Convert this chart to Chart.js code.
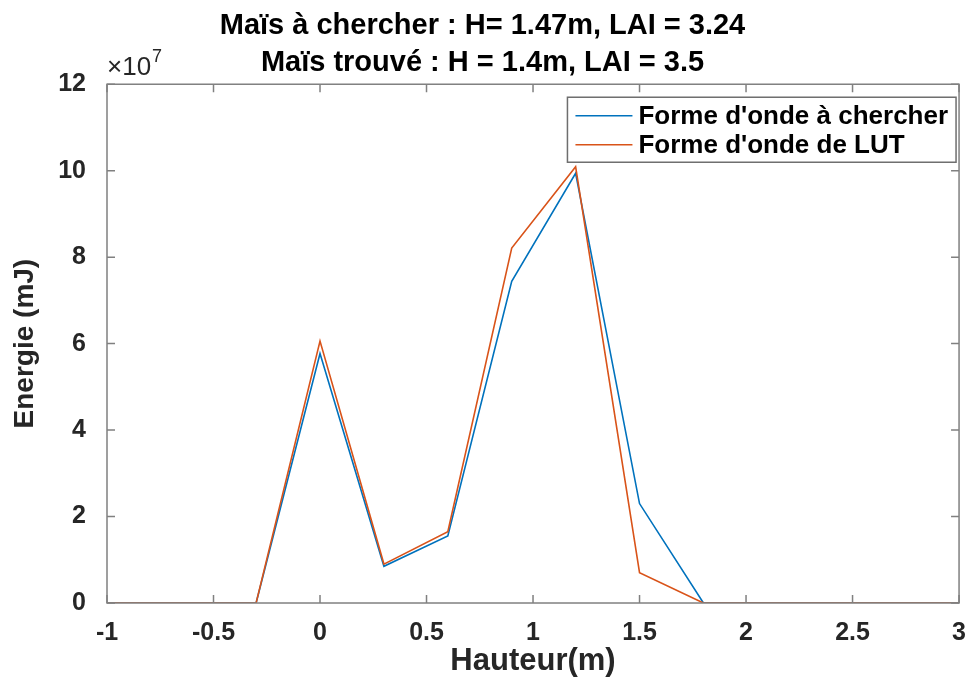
<!DOCTYPE html>
<html>
<head>
<meta charset="utf-8">
<script src="https://cdn.jsdelivr.net/npm/chart.js@4.4.1/dist/chart.umd.min.js"></script>
<style>
	html, body { margin: 0; padding: 0; background: #fff; }
	#wrap { width: 973px; height: 680px; }
</style>
</head>
<body>
<div id="wrap"><canvas id="chart" width="973" height="680"></canvas></div>
<script>
// valeurs
const hauteur = [-1, -0.3, 0, 0.3, 0.6, 0.9, 1.2, 1.5, 1.8, 3];
const energieCherchee = [0, 0, 5.77e7, 0.85e7, 1.55e7, 7.44e7, 9.94e7, 2.30e7, 0, 0];
const energieLUT = [0, 0, 6.06e7, 0.90e7, 1.65e7, 8.21e7, 10.09e7, 0.70e7, 0, 0];
const xTicks = [-1, -0.5, 0, 0.5, 1, 1.5, 2, 2.5, 3];
const yTicks = [0, 2e7, 4e7, 6e7, 8e7, 10e7, 12e7];
const titre = ['Maïs à chercher : H= 1.47m, LAI = 3.24', 'Maïs trouvé : H = 1.4m, LAI = 3.5'];
const legendes = ["Forme d'onde à chercher", "Forme d'onde de LUT"];

const FONT = "'Liberation Sans', Arial, sans-serif";
const AXIS = '#808080';
const TEXT = '#262626';

const points = (ys) => hauteur.map((x, i) => ({ x, y: ys[i] }));

// cadre, graduations vers l'intérieur, exposant et légende façon MATLAB
const matlabBox = {
	id: 'matlabBox',
	afterDatasetsDraw(chart) {
		let ctx = chart.ctx;
		let a = chart.chartArea;
		let xs = chart.scales.x;
		let ys = chart.scales.y;
		let t = 8;

		ctx.save();
		ctx.strokeStyle = AXIS;
		ctx.lineWidth = 1.5;
		ctx.strokeRect(a.left, a.top, a.right - a.left, a.bottom - a.top);

		ctx.beginPath();
		xTicks.forEach((v) => {
			let px = xs.getPixelForValue(v);
			ctx.moveTo(px, a.bottom); ctx.lineTo(px, a.bottom - t);
			ctx.moveTo(px, a.top); ctx.lineTo(px, a.top + t);
		});
		yTicks.forEach((v) => {
			let py = ys.getPixelForValue(v);
			ctx.moveTo(a.left, py); ctx.lineTo(a.left + t, py);
			ctx.moveTo(a.right, py); ctx.lineTo(a.right - t, py);
		});
		ctx.stroke();

		// ×10^7
		ctx.fillStyle = TEXT;
		ctx.textBaseline = 'alphabetic';
		ctx.textAlign = 'left';
		ctx.font = '26px ' + FONT;
		ctx.fillText('\u00d710', a.left, a.top - 9);
		let w = ctx.measureText('\u00d710').width;
		ctx.font = '18px ' + FONT;
		ctx.fillText('7', a.left + 1 + w, a.top - 22);

		// légende
		ctx.font = 'bold 26px ' + FONT;
		let tw = Math.max(...legendes.map((s) => ctx.measureText(s).width));
		let rowH = 29;
		let boxW = 8 + 57 + 6 + tw + 8;
		let boxH = rowH * legendes.length + 7;
		let bx = a.right - 3 - boxW;
		let by = a.top + 13;
		ctx.fillStyle = '#fff';
		ctx.fillRect(bx, by, boxW, boxH);
		ctx.strokeStyle = '#6e6e6e';
		ctx.lineWidth = 1.5;
		ctx.strokeRect(bx, by, boxW, boxH);
		chart.data.datasets.forEach((ds, i) => {
			let cy = by + 4 + rowH * i + rowH / 2;
			ctx.strokeStyle = ds.borderColor;
			ctx.lineWidth = 1.5;
			ctx.beginPath();
			ctx.moveTo(bx + 8, cy);
			ctx.lineTo(bx + 65, cy);
			ctx.stroke();
			ctx.fillStyle = '#000';
			ctx.textBaseline = 'middle';
			ctx.fillText(ds.label, bx + 71, cy + 1);
		});
		ctx.restore();
	},
};

let chart = new Chart(document.getElementById('chart'), {
	type: 'line',
	data: {
		datasets: [
			{
				label: legendes[0],
				data: points(energieCherchee),
				borderColor: '#0072BD',
				borderWidth: 1.6,
				pointRadius: 0,
				tension: 0,
				order: 1,
			},
			{
				label: legendes[1],
				data: points(energieLUT),
				borderColor: '#D95319',
				borderWidth: 1.6,
				pointRadius: 0,
				tension: 0,
				order: 0,
			},
		],
	},
	options: {
		responsive: false,
		animation: false,
		layout: { padding: { top: 0, right: 8, left: 0, bottom: 0 } },
		plugins: {
			legend: { display: false },
			tooltip: { enabled: false },
			title: {
				display: true,
				text: titre,
				color: '#000',
				font: { family: FONT, size: 29, weight: 'bold', lineHeight: 1.28 },
				padding: { top: 7, bottom: 3 },
			},
		},
		scales: {
			x: {
				type: 'linear',
				min: -1,
				max: 3,
				afterBuildTicks(scale) { scale.ticks = xTicks.map((v) => ({ value: v })); },
				afterFit(scale) { scale.height = 77; },
				grid: { display: false },
				border: { display: false },
				ticks: {
					color: TEXT,
					padding: 7,
					font: { family: FONT, size: 25, weight: 'bold' },
					callback: (v) => String(v),
				},
				title: {
					display: true,
					text: 'Hauteur(m)',
					color: TEXT,
					font: { family: FONT, size: 31, weight: 'bold' },
					padding: { top: -5, bottom: 0 },
				},
			},
			y: {
				min: 0,
				max: 12e7,
				afterBuildTicks(scale) { scale.ticks = yTicks.map((v) => ({ value: v })); },
				afterFit(scale) { scale.width = 107; },
				grid: { display: false },
				border: { display: false },
				ticks: {
					color: TEXT,
					padding: 13,
					font: { family: FONT, size: 25, weight: 'bold' },
					callback: (v) => String(Math.round(v / 1e7)),
				},
				title: {
					display: true,
					text: 'Energie (mJ)',
					color: TEXT,
					font: { family: FONT, size: 28, weight: 'bold' },
					padding: { top: 8, bottom: 0 },
				},
			},
		},
	},
	plugins: [matlabBox],
});
</script>
</body>
</html>
